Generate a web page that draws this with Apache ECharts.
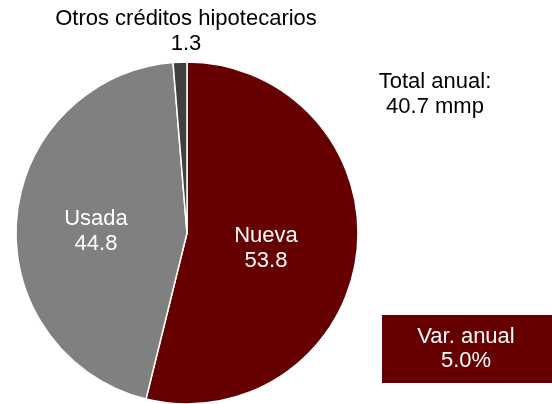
<!DOCTYPE html>
<html>
<head>
<meta charset="utf-8">
<script src="https://cdn.jsdelivr.net/npm/echarts@6/dist/echarts.min.js"></script>
<style>
html, body { margin: 0; padding: 0; background: #fff; }
#main { width: 552px; height: 404px; }
</style>
</head>
<body>
<div id="main"></div>
<script>
var categories = ['Nueva', 'Usada', 'Otros créditos hipotecarios'];
var values = [53.8, 44.8, 1.3];
var colors = ['#660000', '#808080', '#404040'];
var totalText = 'Total anual:\n40.7 mmp';
var varText = 'Var. anual\n5.0%';

var chart = echarts.init(document.getElementById('main'));

var pieData = categories.map(function (name, i) {
    return {
        name: name,
        value: values[i],
        itemStyle: { color: colors[i] },
        label: i === 2 ? {
            position: 'outside',
            color: '#000'
        } : {
            position: 'inside',
            color: '#fff'
        }
    };
});

chart.setOption({
    animation: false,
    textStyle: { fontFamily: 'Liberation Sans, Arial, sans-serif' },
    series: [{
        type: 'pie',
        center: [187, 233],
        radius: [0, 171],
        startAngle: 90,
        clockwise: true,
        avoidLabelOverlap: false,
        itemStyle: { borderColor: '#fff', borderWidth: 1.5 },
        label: {
            show: true,
            fontSize: 22,
            lineHeight: 25,
            fontFamily: 'Liberation Sans, Arial, sans-serif',
            formatter: function (p) { return p.name + '\n' + p.value.toFixed(1); }
        },
        labelLine: { show: false },
        labelLayout: function (p) {
            if (p.dataIndex === 2) {
                return { x: 186, y: 31, align: 'center', verticalAlign: 'middle' };
            }
            if (p.dataIndex === 1) {
                return { x: 96, y: 231, align: 'center', verticalAlign: 'middle' };
            }
            return { x: 266, y: 248, align: 'center', verticalAlign: 'middle' };
        },
        data: pieData
    }],
    graphic: [{
        type: 'text',
        x: 435,
        y: 94,
        style: {
            text: totalText,
            align: 'center',
            verticalAlign: 'middle',
            fill: '#000',
            font: '22px Liberation Sans, Arial, sans-serif',
            lineHeight: 25
        }
    }, {
        type: 'rect',
        shape: { x: 382, y: 315, width: 170, height: 68 },
        style: { fill: '#660000' }
    }, {
        type: 'text',
        x: 466,
        y: 349,
        style: {
            text: varText,
            align: 'center',
            verticalAlign: 'middle',
            fill: '#fff',
            font: '22px Liberation Sans, Arial, sans-serif',
            lineHeight: 24
        }
    }]
});
</script>
</body>
</html>
